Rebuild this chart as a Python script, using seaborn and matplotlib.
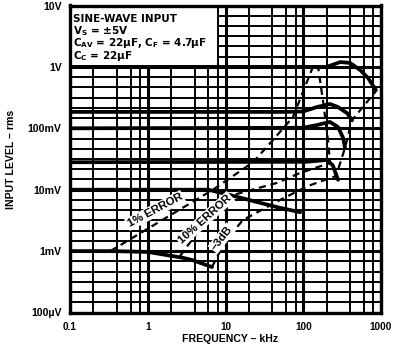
import numpy as np
import pandas as pd
import matplotlib
matplotlib.use("Agg")
import matplotlib.pyplot as plt
import seaborn as sns
from matplotlib.patches import Rectangle
from matplotlib.ticker import FixedLocator, NullFormatter

# ---------------- data (frequency in kHz, input level in V rms) ----------------
curve_1mV_f = [0.1, 0.35, 1.0, 2.8, 3.8, 6.7]
curve_1mV_v = [1.0e-3, 1.0e-3, 0.97e-3, 0.78e-3, 0.71e-3, 0.55e-3]
curve_10mV_f = [0.1, 6.0, 11.4, 25.4, 46.0, 91.0]
curve_10mV_v = [10e-3, 10e-3, 8.2e-3, 6.3e-3, 5.2e-3, 4.3e-3]
curve_30mV_f = [0.1, 110, 200, 240, 280]
curve_30mV_v = [28e-3, 28.5e-3, 30.5e-3, 25e-3, 14.5e-3]
curve_100mV_f = [0.1, 100, 150, 220, 280, 325, 345]
curve_100mV_v = [0.100, 0.102, 0.113, 0.127, 0.105, 0.070, 0.048]
curve_200mV_f = [0.1, 60, 100, 150, 220, 280, 365, 425]
curve_200mV_v = [0.185, 0.185, 0.188, 0.222, 0.249, 0.222, 0.177, 0.136]
curve_1V_f = [0.1, 200, 300, 400, 540, 680, 860]
curve_1V_v = [1.0, 1.0, 1.2, 1.16, 0.89, 0.66, 0.42]

err1_f = [0.33, 6.9, 22.6, 40.8, 73.8, 105, 133]
err1_v = [1.0e-3, 10e-3, 28e-3, 64.5e-3, 0.153, 0.471, 1.0]
err10_f = [2.6, 5.45, 12.5, 45.9, 90.8, 221, 208, 179, 155]
err10_v = [0.83e-3, 2.98e-3, 8.2e-3, 12.9e-3, 18.7e-3, 27.2e-3, 64.5e-3, 0.289, 1.0]
db3_f = [6.7, 10.1, 16.8, 50.2, 115, 264, 344, 424, 863]
db3_v = [0.55e-3, 1.52e-3, 3.21e-3, 6.8e-3, 11.5e-3, 16.7e-3, 47.8e-3, 0.136, 0.405]

x_ticks = [0.1, 1, 10, 100, 1000]
x_labels = ["0.1", "1", "10", "100", "1000"]
y_ticks = [1e-4, 1e-3, 1e-2, 1e-1, 1, 10]
y_labels = ["100µV", "1mV", "10mV", "100mV", "1V", "10V"]

info_lines = ["SINE-WAVE INPUT",
              r"$\mathbf{V_S}$ = ±5V",
              r"$\mathbf{C_{AV}}$ = 22µF, $\mathbf{C_F}$ = 4.7µF",
              r"$\mathbf{C_C}$ = 22µF"]

# ---------------- style ----------------
sns.set_style("white")
plt.rcParams['font.family'] = ['Liberation Sans', 'DejaVu Sans']
plt.rcParams['font.weight'] = 'bold'
plt.rcParams['mathtext.fontset'] = 'dejavusans'
plt.rcParams['text.color'] = 'black'
plt.rcParams['axes.labelcolor'] = 'black'
plt.rcParams['xtick.color'] = 'black'
plt.rcParams['ytick.color'] = 'black'

W, H = 394, 352
fig = plt.figure(figsize=(W / 100, H / 100), dpi=100)
L, R, T, B = 70, 381, 5.5, 312.5
ax = fig.add_axes([L / W, 1 - B / H, (R - L) / W, (B - T) / H])
ax.set_xscale('log')
ax.set_yscale('log')
ax.set_xlim(0.1, 1000)
ax.set_ylim(1e-4, 10)

# grid
x_minor = [m * 10.0 ** k for k in range(-1, 3) for m in (2, 4, 6, 8)]
y_minor = [10.0 ** (k + j / 6) for k in range(-4, 1) for j in range(1, 6)]
ax.xaxis.set_major_locator(FixedLocator(x_ticks))
ax.yaxis.set_major_locator(FixedLocator(y_ticks))
ax.xaxis.set_minor_locator(FixedLocator(x_minor))
ax.yaxis.set_minor_locator(FixedLocator(y_minor))
ax.xaxis.set_minor_formatter(NullFormatter())
ax.yaxis.set_minor_formatter(NullFormatter())
ax.set_xticklabels(x_labels, fontsize=7.2, fontweight='bold', color='black')
ax.set_yticklabels(y_labels, fontsize=7.6, fontweight='bold', color='black')
ax.tick_params(which='both', length=0, labelcolor='black')
ax.tick_params(axis='x', pad=7)
ax.tick_params(axis='y', pad=6)
ax.set_axisbelow(True)
ax.grid(which='major', color='black', lw=2.2)
ax.grid(which='minor', color='black', lw=1.4)
for s in ax.spines.values():
    s.set_linewidth(2.4)
    s.set_color('black')

# info box (white area in top-left)
ax.add_patch(Rectangle((0.1, 1.0), 8 - 0.1, 10 - 1.0, facecolor='white',
                       edgecolor='black', lw=1.4, zorder=1.5))
ys = [21.5, 34, 46.5, 59]
for txt, y in zip(info_lines, ys):
    fig.text(73 / W, 1 - y / H, txt, fontsize=7.5, fontweight='bold', color='black',
             family='DejaVu Sans', va='baseline', ha='left', zorder=5)

# solid response curves
solid = [(curve_1mV_f, curve_1mV_v), (curve_10mV_f, curve_10mV_v),
         (curve_30mV_f, curve_30mV_v), (curve_100mV_f, curve_100mV_v),
         (curve_200mV_f, curve_200mV_v), (curve_1V_f, curve_1V_v)]
for f, v in solid:
    df = pd.DataFrame({"f": f, "v": v})
    sns.lineplot(data=df, x="f", y="v", ax=ax, sort=False, color='black',
                 lw=2.7, zorder=3, solid_capstyle='round', solid_joinstyle='round')

# dashed error contours
for f, v in [(err1_f, err1_v), (err10_f, err10_v), (db3_f, db3_v)]:
    df = pd.DataFrame({"f": f, "v": v})
    sns.lineplot(data=df, x="f", y="v", ax=ax, sort=False, color='black',
                 lw=1.6, zorder=3, dashes=False, linestyle=(0, (3.2, 2.2)))

# contour labels
bb = dict(facecolor='white', edgecolor='none', pad=1.0)
ax.text(1.24, 4.6e-3, "1% ERROR", rotation=28, fontsize=8.2, fontweight='bold',
        color='black', ha='center', va='center', rotation_mode='anchor', bbox=bb, zorder=4)
ax.text(5.45, 3.33e-3, "10% ERROR", rotation=42, fontsize=8.2, fontweight='bold',
        color='black', ha='center', va='center', rotation_mode='anchor', bbox=bb, zorder=4)
ax.text(9.0, 1.63e-3, "–3dB", rotation=52, fontsize=8.2, fontweight='bold',
        color='black', ha='center', va='center', rotation_mode='anchor', bbox=bb, zorder=4)

ax.set_xlabel("")
ax.set_ylabel("")
fig.text(230 / W, 1 - 339 / H, "FREQUENCY – kHz", fontsize=7.6, fontweight='bold',
         color='black', ha='center', va='center')
fig.text(11 / W, 1 - 159 / H, "INPUT LEVEL – rms", fontsize=7.6, fontweight='bold',
         color='black', ha='center', va='center', rotation=90)

fig.savefig("out.png", dpi=100)
